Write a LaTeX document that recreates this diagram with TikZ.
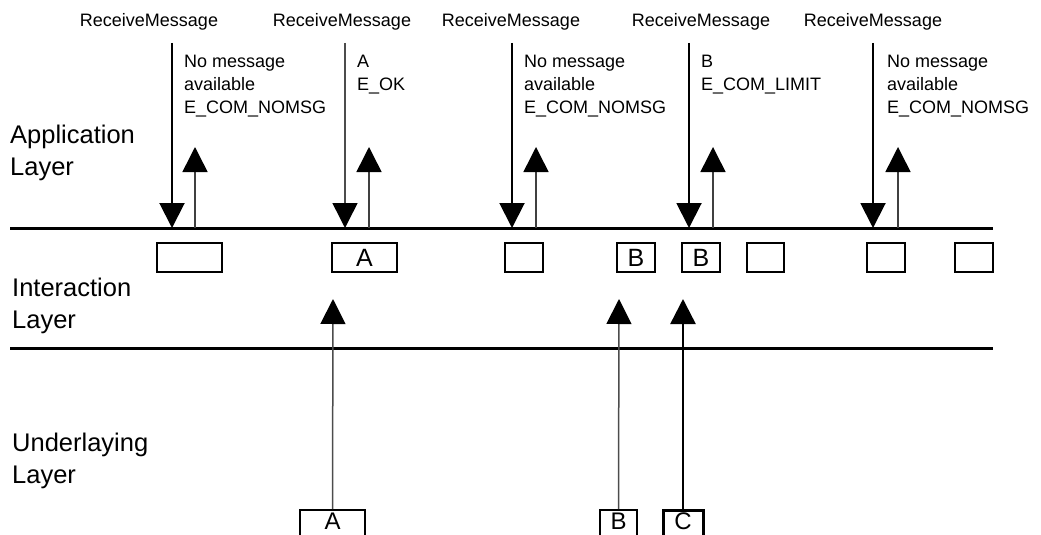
\documentclass[tikz,border=0pt]{standalone}
\usepackage{fontspec}
\setmainfont{Liberation Sans}
\usetikzlibrary{arrows.meta}

\begin{document}
\begin{tikzpicture}[x=1pt,y=-1pt,
  callname/.style={font=\fontsize{18}{23}\selectfont, inner sep=0pt, anchor=base},
  note/.style={font=\fontsize{18}{23}\selectfont, inner sep=0pt, align=left, anchor=north west},
  layer/.style={font=\fontsize{25.5}{32}\selectfont, inner sep=0pt, align=left, anchor=north west},
  rail/.style={line width=3pt},
  buf/.style={draw, line width=2.8pt, minimum height=29pt, inner sep=0pt,
    font=\fontsize{25}{25}\selectfont},
  src/.style={draw, line width=2pt, minimum height=40pt, inner sep=0pt, anchor=north},
  srclbl/.style={font=\fontsize{24}{24}\selectfont, inner sep=0pt, anchor=north},
  tip/.style={-{Triangle[width=25pt,length=25pt,color=black]}},
  call/.style={tip, line width=2pt},
  callthin/.style={tip, line width=1.5pt, black!70},
  ret/.style={tip, line width=1.5pt, black!75},
  feed/.style={tip, line width=1.5pt, black!70},
  feedbold/.style={tip, line width=2.5pt},
]
\useasboundingbox (0,0) rectangle (1041,535);
\clip (0,0) rectangle (1041,535);

% layer boundaries
\coordinate (r1w) at (10,228);  \coordinate (r1e) at (993,228);
\coordinate (r2w) at (10,348);  \coordinate (r2e) at (993,348);
\draw[rail] (r1w) -- (r1e);
\draw[rail] (r2w) -- (r2e);

% layer names
\node[layer] (app) at (10,125) {Application\\Layer};
\node[layer] (ia)  at (12,278) {Interaction\\Layer};
\node[layer] (ul)  at (12,433) {Underlaying\\Layer};

% ReceiveMessage calls
\node[callname] (rm1) at (149,27) {ReceiveMessage};
\node[callname] (rm2) at (342,27) {ReceiveMessage};
\node[callname] (rm3) at (511,27) {ReceiveMessage};
\node[callname] (rm4) at (701,27) {ReceiveMessage};
\node[callname] (rm5) at (873,27) {ReceiveMessage};

% results returned to the application
\node[note] (res1) at (184,55) {No message\\available\\E\_COM\_NOMSG};
\node[note] (res2) at (357,55) {A\\E\_OK};
\node[note] (res3) at (524,55) {No message\\available\\E\_COM\_NOMSG};
\node[note] (res4) at (701,55) {B\\E\_COM\_LIMIT};
\node[note] (res5) at (887,55) {No message\\available\\E\_COM\_NOMSG};

% call / return arrows
\foreach \i/\xd/\xu in {1/172/195, 2/345/369, 3/512/536, 4/689/713, 5/873/898}{
  \coordinate (cs\i) at (\xd,43);  \coordinate (ce\i) at (\xd,228);
  \coordinate (rs\i) at (\xu,228); \coordinate (re\i) at (\xu,147);
}
\draw[call]     (cs1) -- (ce1);
\draw[callthin] (cs2) -- (ce2);
\draw[call]     (cs3) -- (ce3);
\draw[call]     (cs4) -- (ce4);
\draw[call]     (cs5) -- (ce5);
\foreach \i in {1,...,5}{ \draw[ret] (rs\i) -- (re\i); }

% message buffer states in the interaction layer
\node[buf, minimum width=65pt] (b1) at (189.5,257.5) {};
\node[buf, minimum width=65pt] (b2) at (364.5,257.5) {A};
\node[buf, minimum width=38pt] (b3) at (524,257.5) {};
\node[buf, minimum width=38pt] (b4) at (636,257.5) {B};
\node[buf, minimum width=38pt] (b5) at (701,257.5) {B};
\node[buf, minimum width=37pt] (b6) at (765.5,257.5) {};
\node[buf, minimum width=38pt] (b7) at (886,257.5) {};
\node[buf, minimum width=38pt] (b8) at (974,257.5) {};

% messages arriving from the underlaying layer (frames run past the lower edge)
\node[src, minimum width=65pt] (uA) at (332.5,509) {};
\node[src, minimum width=37pt] (uB) at (618.5,509) {};
\node[src, minimum width=40pt, line width=3pt] (uC) at (683,509) {};
\node[srclbl] (lA) at (332.5,512.5) {A};
\node[srclbl] (lB) at (618.5,512.5) {B};
\node[srclbl] (lC) at (683,512.5) {C};
\coordinate (tA) at (333,299);
\coordinate (tB) at (619,299);
\coordinate (tC) at (683,299);
\draw[feed]     (uA.north) -- (tA);
\draw[feed]     (uB.north) -- (tB);
\draw[feedbold] (uC.north) -- (tC);
\end{tikzpicture}
\end{document}
